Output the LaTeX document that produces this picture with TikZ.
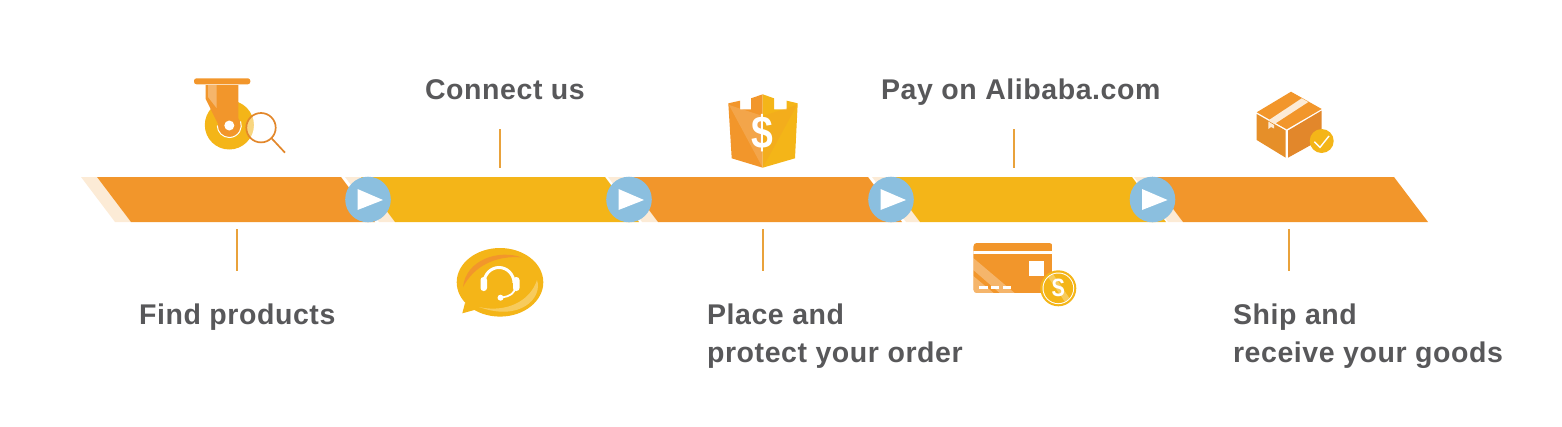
\documentclass[tikz,border=0pt]{standalone}
\usepackage{fontspec}
\setmainfont{Liberation Sans}
\newfontfamily\labelfont[LetterSpace=2]{Liberation Sans}
\usetikzlibrary{calc}
\definecolor{corange}{HTML}{F2962B}
\definecolor{cyellow}{HTML}{F4B518}
\definecolor{cpale}{HTML}{FCEBD6}
\definecolor{cblue}{HTML}{8BBFDF}
\definecolor{ctick}{HTML}{E9A23B}
\definecolor{cgrey}{HTML}{58585A}
\definecolor{cdeep}{HTML}{E2872B}
\tikzset{
  every picture/.style={line width=1.2pt},
  label/.style={font=\labelfont\bfseries\fontsize{28.5}{38}\selectfont, text=cgrey, anchor=base west, align=left, inner sep=0pt},
  tick/.style={draw=ctick, line width=2pt},
  play/.style={circle, fill=cblue, minimum size=45.6pt, inner sep=0pt},
  band/.style={fill=#1, draw=none},
  glyph/.style={text=white, inner sep=0pt, font=\bfseries\fontsize{#1}{#1}\selectfont},
}
\begin{document}
\begin{tikzpicture}[x=1pt, y=-1pt]
  \useasboundingbox (0,0) rectangle (1562,426);
  % band
  \foreach \a/\b in {81/97, 345/361, 608/624, 872/886, 1134/1149}
    \fill[cpale] (\a,177) -- (\b,177) -- (\b+34,222) -- (\a+34,222) -- cycle;
  \foreach \a/\b/\c in {97/341/corange, 361/605/cyellow, 624/868/corange, 886/1132/cyellow, 1149/1394/corange}
    \fill[band=\c] (\a,177) -- (\b,177) -- (\b+34,222) -- (\a+34,222) -- cycle;
  \foreach \n/\x in {p1/368, p2/629, p3/891, p4/1152.5} {
    \node[play] (\n) at (\x,199.5) {};
    \fill[white] ($(\n)+(-10.5,-10.5)$) -- ($(\n)+(15,0.5)$) -- ($(\n)+(-10.5,10.5)$) -- cycle;
  }
  % labels and ticks
  \node[label] (find) at (138.5,324) {Find products};
  \node[label] (connect) at (424.5,99) {Connect us};
  \node[label] (place) at (706.5,324) {Place and};
  \node[label] (protect) at (706.5,362) {protect your order};
  \node[label] (pay) at (880.5,99) {Pay on Alibaba.com};
  \node[label] (ship) at (1232.5,324) {Ship and};
  \node[label] (receive) at (1232.5,362) {receive your goods};
  \foreach \n/\x/\s/\e in {t1/236.5/229/271, t2/499.5/129/168, t3/762.5/229/271, t4/1013.5/129/168, t5/1288.5/229/271} {
    \coordinate (\n a) at (\x,\s);
    \coordinate (\n b) at (\x,\e);
    \draw[tick] (\n a) -- (\n b);
  }
  % caster
  \fill[cyellow] (229.3,125) circle (24.5);
  \fill[corange, rounded corners=2.5pt] (194,78.3) rectangle (250.3,84.3);
  \fill[corange] (205.7,85) -- (238.3,85) -- (238.3,120) -- (218,124) -- (205.7,99) -- cycle;
  \fill[corange] (229.3,125.5) circle (11.5);
  \draw[white, line width=1pt] (217.3,125.5) arc (180:-20:12);
  \fill[white] (229.3,125.5) circle (5);
  \fill[white, opacity=0.3] (208,85) -- (216.5,85) -- (216.5,108) -- (208,97) -- cycle;
  \begin{scope}
    \clip (261,127.7) circle (14.7);
    \fill[white, opacity=0.45] (229.3,125) circle (24.5);
  \end{scope}
  \draw[cdeep, line width=1.7pt] (261,127.7) circle (14.7);
  \draw[cdeep, line width=1.7pt] (271.5,138.2) -- (285,152.7);
  % headset bubble
  \fill[cyellow] (500,282.3) ellipse (43.3 and 34.3);
  \fill[cyellow] (465,303) -- (462.3,313.3) -- (478,309) -- cycle;
  \fill[corange] (463,287) .. controls (466,260) and (498,249) .. (522,257.5) .. controls (496,255) and (474,266) .. (463,287) -- cycle;
  \fill[white, opacity=0.3] (479,307) .. controls (505,313) and (530,302) .. (537,280) .. controls (543,298) and (520,322) .. (479,307) -- cycle;
  \draw[white, line width=3pt] (484,283) arc (180:360:15 and 15.5);
  \draw[white, line width=1.8pt] (515,288) arc (0:80:15 and 9.5);
  \fill[white, rounded corners=3pt] (480.5,277) rectangle (487,291);
  \fill[white, rounded corners=3pt] (513,277) rectangle (519.5,291);
  \fill[white] (500.5,297.7) circle (3);
  % shield
  \fill[corange] (762.7,94.3) -- (751,98.3) -- (751,109.3) -- (740,109.3) -- (740,100.7) -- (728.3,103.3) -- (731.7,158.3) -- (762.7,167.7) -- cycle;
  \fill[cyellow] (762.7,94.3) -- (774,98.3) -- (774,109.3) -- (786.7,109.3) -- (786.7,100.7) -- (797.7,103.3) -- (795,158.3) -- (762.7,167.7) -- cycle;
  \fill[white, opacity=0.15] (729,105) -- (762.7,116) -- (762.7,167.7) -- cycle;
  \fill[corange, opacity=0.25] (797,105) -- (762.7,116) -- (762.7,167.7) -- cycle;
  \node[glyph=46, xscale=0.85] (dollar) at (762.7,133) {\$};
  % card
  \begin{scope}
    \clip[rounded corners=4pt] (973.3,242.7) rectangle (1052.7,293.3);
    \fill[corange] (973.3,242.7) rectangle (1052.7,293.3);
    \fill[white, opacity=0.3] (973.3,258) -- (1015,293.3) -- (1000,293.3) -- (973.3,270) -- cycle;
    \fill[white, opacity=0.3] (973.3,276) -- (994,293.3) -- (973.3,293.3) -- cycle;
    \fill[white] (973.3,251) rectangle (1052.7,254.3);
  \end{scope}
  \fill[white] (1029,260.7) rectangle (1044,275.7);
  \foreach \x in {979.3, 991, 1002.7}
    \fill[white] (\x,286) rectangle (\x+8.4,289);
  \fill[cyellow] (1058.3,288.3) circle (18);
  \fill[white] (1058.3,288.3) circle (15.8);
  \fill[cyellow] (1058.3,288.3) circle (14.8);
  \begin{scope}
    \clip (1058.3,288.3) circle (14.8);
    \fill[white, opacity=0.3] (1046,274) -- (1053,274) -- (1072,302) -- (1065,302) -- cycle;
  \end{scope}
  \node[glyph=25, xscale=0.8] (coin) at (1058.3,288.3) {S};
  % box
  \fill[corange] (1291,91.7) -- (1321.7,109) -- (1286.7,129.3) -- (1256.7,112.3) -- cycle;
  \fill[corange!95!black] (1256.7,114) -- (1285.7,130.5) -- (1285.7,157.7) -- (1256.7,140) -- cycle;
  \fill[cdeep] (1321.7,110.5) -- (1321.7,139) -- (1288,157.7) -- (1288,130.5) -- cycle;
  \fill[cpale] (1301.7,98.3) -- (1308.3,102) -- (1274.5,124) -- (1268.3,120.5) -- cycle;
  \fill[cpale] (1268.3,121.5) -- (1274,125) -- (1274,128.5) -- (1271,127) -- (1268.3,129) -- cycle;
  \fill[cyellow] (1321.7,141) circle (12);
  \draw[white, line width=1.4pt] (1314.3,141.7) -- (1320,147.3) -- (1329,136);
\end{tikzpicture}
\end{document}
